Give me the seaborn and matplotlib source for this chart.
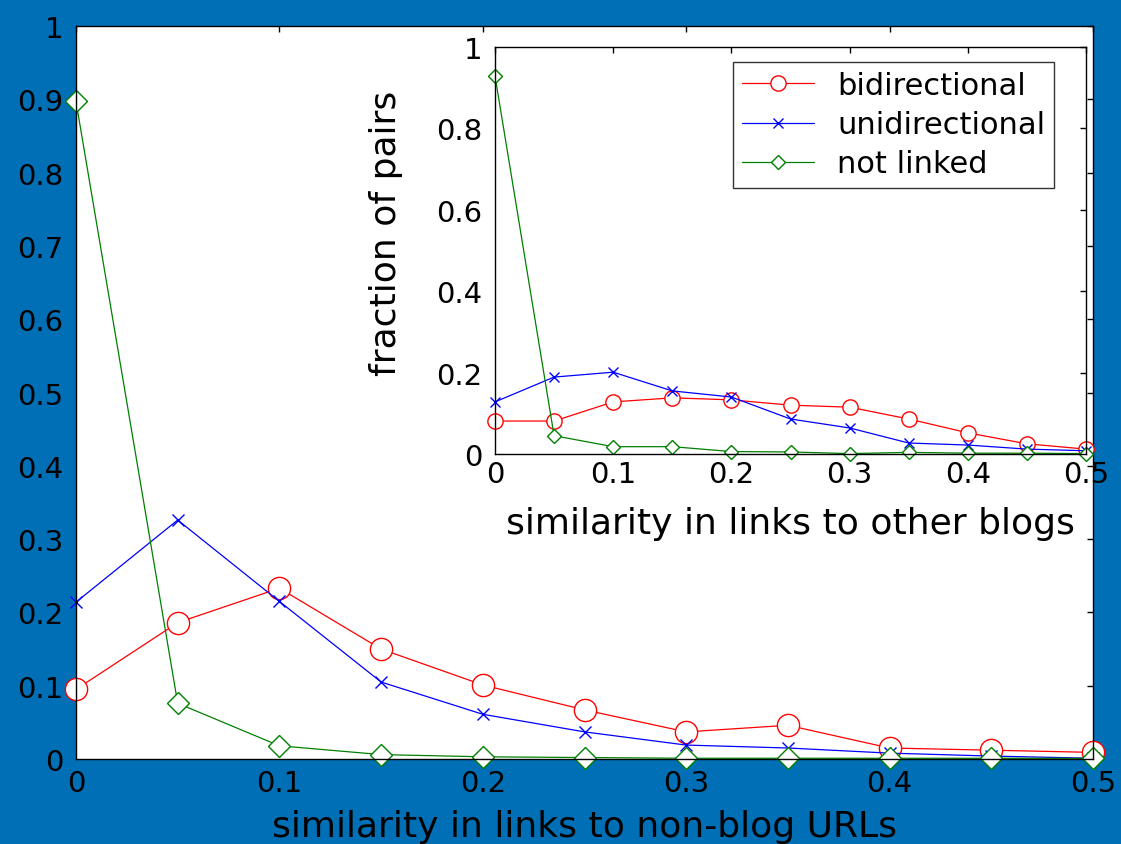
import numpy as np
import pandas as pd
import matplotlib
matplotlib.use("Agg")
import matplotlib.pyplot as plt
import seaborn as sns

# similarity bins shared by both panels
similarity = [0.0, 0.05, 0.10, 0.15, 0.20, 0.25, 0.30, 0.35, 0.40, 0.45, 0.50]

# main panel: similarity in links to non-blog URLs
url_bidirectional = [0.095, 0.186, 0.233, 0.150, 0.101, 0.067, 0.037, 0.046, 0.015, 0.012, 0.009]
url_unidirectional = [0.214, 0.326, 0.215, 0.105, 0.061, 0.037, 0.019, 0.015, 0.008, 0.004, 0.001]
url_not_linked = [0.897, 0.076, 0.018, 0.006, 0.003, 0.002, 0.001, 0.001, 0.001, 0.001, 0.001]

# inset panel: similarity in links to other blogs
blog_bidirectional = [0.081, 0.081, 0.128, 0.138, 0.133, 0.120, 0.115, 0.086, 0.052, 0.025, 0.012]
blog_unidirectional = [0.128, 0.189, 0.201, 0.155, 0.140, 0.086, 0.064, 0.027, 0.022, 0.012, 0.008]
blog_not_linked = [0.929, 0.045, 0.018, 0.018, 0.006, 0.005, 0.001, 0.004, 0.002, 0.002, 0.001]

series_names = ["bidirectional", "unidirectional", "not linked"]

x_ticks = [0, 0.1, 0.2, 0.3, 0.4, 0.5]
x_tick_labels = ["0", "0.1", "0.2", "0.3", "0.4", "0.5"]
main_y_ticks = [0, 0.1, 0.2, 0.3, 0.4, 0.5, 0.6, 0.7, 0.8, 0.9, 1.0]
main_y_tick_labels = ["0", "0.1", "0.2", "0.3", "0.4", "0.5", "0.6", "0.7", "0.8", "0.9", "1"]
inset_y_ticks = [0, 0.2, 0.4, 0.6, 0.8, 1.0]
inset_y_tick_labels = ["0", "0.2", "0.4", "0.6", "0.8", "1"]

sns.set_style("white")
plt.rcParams["font.family"] = ["DejaVu Sans"]
plt.rcParams["text.color"] = "black"

BG = "#006fb6"
TICK_FS = 21
LABEL_FS = 26
LEGEND_FS = 22

styles = {
    "bidirectional": dict(color="#ff0000", marker="o"),
    "unidirectional": dict(color="#0000ff", marker="x"),
    "not linked": dict(color="#008000", marker="D"),
}


def draw_panel(ax, values, msizes):
    for name, ys in zip(series_names, values):
        df = pd.DataFrame({"similarity": similarity, "fraction": ys})
        st = styles[name]
        sns.lineplot(
            data=df, x="similarity", y="fraction", ax=ax,
            color=st["color"], marker=st["marker"], markersize=msizes[name],
            markerfacecolor="white" if st["marker"] != "x" else st["color"],
            markeredgecolor=st["color"], markeredgewidth=1.0,
            linewidth=0.9, label=name, clip_on=False, errorbar=None,
        )


def style_axes(ax, yticks, ylabels, xpad, ypad):
    ax.set_xlim(0, 0.5)
    ax.set_ylim(0, 1)
    ax.set_xticks(x_ticks)
    ax.set_xticklabels(x_tick_labels)
    ax.set_yticks(yticks)
    ax.set_yticklabels(ylabels)
    ax.tick_params(axis="both", direction="in", length=4, width=1, color="black",
                   labelsize=TICK_FS, labelcolor="black", top=True, right=True)
    ax.tick_params(axis="x", pad=xpad)
    ax.tick_params(axis="y", pad=ypad)
    for s in ax.spines.values():
        s.set_visible(True)
        s.set_color("black")
        s.set_linewidth(1.0)
    ax.set_facecolor("white")


fig = plt.figure(figsize=(11.21, 8.45), dpi=100, facecolor=BG)

# main panel
ax = fig.add_axes([76 / 1121, 1 - 760 / 845, (1093 - 76) / 1121, (760 - 27) / 845])
draw_panel(ax, [url_bidirectional, url_unidirectional, url_not_linked],
           {"bidirectional": 16, "unidirectional": 9, "not linked": 11})
style_axes(ax, main_y_ticks, main_y_tick_labels, xpad=7, ypad=9)
ax.set_xlabel("similarity in links to non-blog URLs", fontsize=LABEL_FS, color="black", labelpad=9)
ax.set_ylabel("")
ax.get_legend().remove()

# inset panel
axi = fig.add_axes([495 / 1121, 1 - 455 / 845, (1086 - 495) / 1121, (455 - 48) / 845])
draw_panel(axi, [blog_bidirectional, blog_unidirectional, blog_not_linked],
           {"bidirectional": 11, "unidirectional": 7, "not linked": 7.5})
style_axes(axi, inset_y_ticks, inset_y_tick_labels, xpad=4, ypad=9)
axi.set_xlabel("similarity in links to other blogs", fontsize=LABEL_FS, color="black", labelpad=13)
axi.set_ylabel("fraction of pairs", fontsize=LABEL_FS, color="black")
axi.yaxis.set_label_coords(-0.155, 0.545)

handles, labels = axi.get_legend_handles_labels()
axi.get_legend().remove()
leg = axi.legend(
    handles, labels, loc="upper left",
    bbox_to_anchor=(733 / 1121, 1 - 63 / 845), bbox_transform=fig.transFigure,
    borderaxespad=0, frameon=True, fancybox=False, edgecolor="black",
    fontsize=LEGEND_FS, handlelength=2.35, handletextpad=0.75, labelspacing=0.33,
    borderpad=0.3, labelcolor="black",
)
leg.get_frame().set_linewidth(1.0)

fig.savefig("out.png", dpi=100, facecolor=BG)
